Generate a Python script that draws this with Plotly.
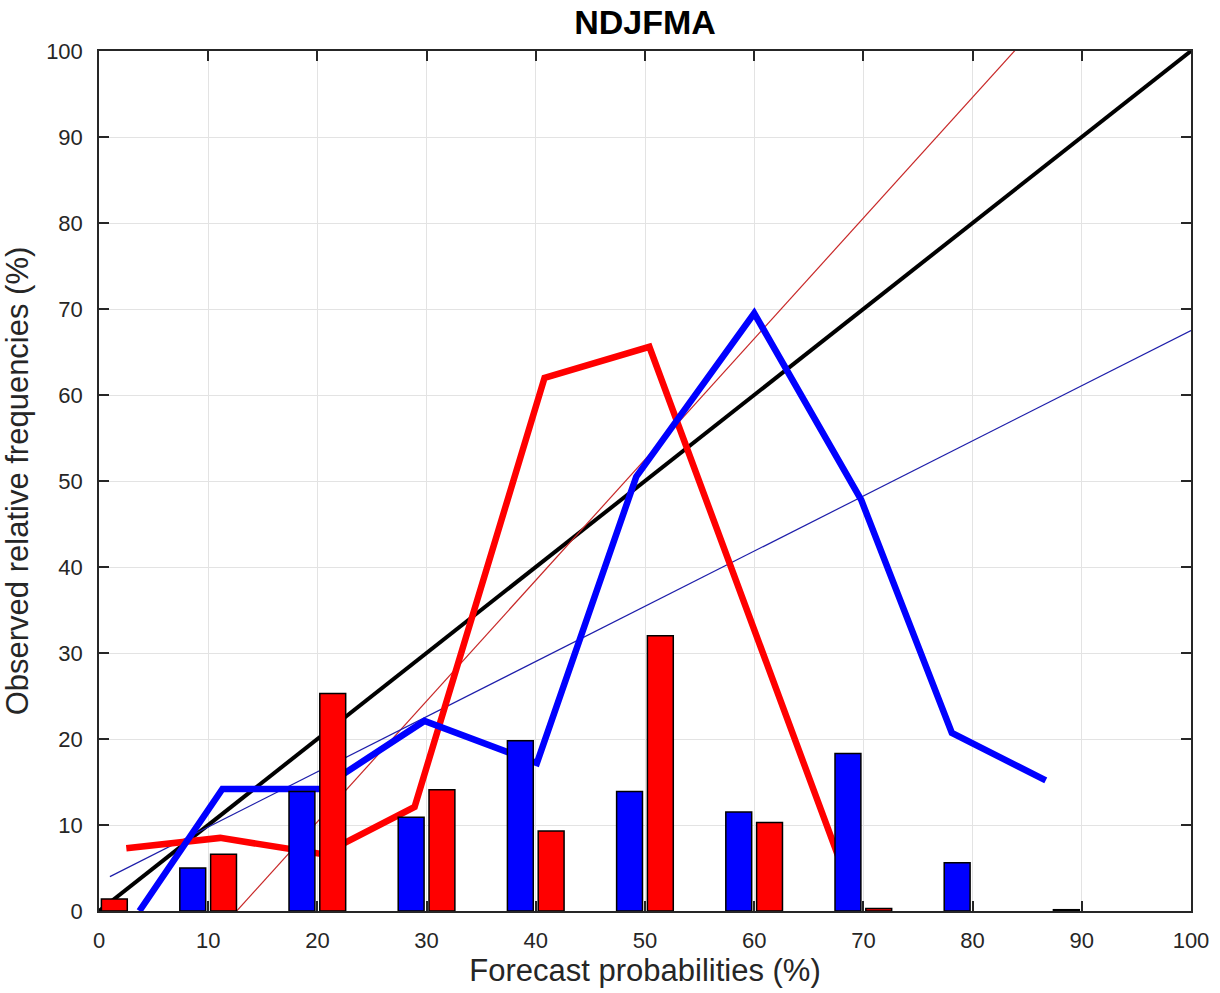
import plotly.graph_objects as go

# ---- data ----
bins = [0, 10, 20, 30, 40, 50, 60, 70, 80, 90, 100]
blue_bars = [None, 5.0, 13.9, 10.9, 19.8, 13.9, 11.5, 18.3, 5.6, 0.15, None]
red_bars = [1.4, 6.6, 25.3, 14.1, 9.3, 32.0, 10.3, 0.3, None, None, None]

blue_x = [3.7, 11.3, 20.3, 29.8, 40.1, 49.2, 60.0, 69.8, 78.1, 86.7]
blue_y = [0.0, 14.2, 14.2, 22.1, 17.2, 50.5, 69.5, 47.8, 20.7, 15.2]

red_x = [2.5, 11.1, 20.5, 28.9, 40.8, 50.4, 69.2]
red_y = [7.3, 8.5, 6.6, 12.1, 62.0, 65.6, 1.2]

diag_x = [0, 100]
diag_y = [0, 100]

red_fit_x = [1, 100]
red_fit_y = [-16.3, 122.7]
blue_fit_x = [1, 100]
blue_fit_y = [4.0, 67.5]

title_text = "NDJFMA"
xlabel = "Forecast probabilities (%)"
ylabel = "Observed relative frequencies (%)"
ticks = [0, 10, 20, 30, 40, 50, 60, 70, 80, 90, 100]

FONT = "Liberation Sans, Arial, Helvetica, sans-serif"
AX = "#262626"
GRID = "#e3e3e3"

fig = go.Figure()

# lines (main axes)
fig.add_trace(go.Scatter(x=diag_x, y=diag_y, mode="lines",
                         line=dict(color="black", width=4), showlegend=False))
fig.add_trace(go.Scatter(x=red_fit_x, y=red_fit_y, mode="lines",
                         line=dict(color="rgb(200,40,40)", width=1.2), showlegend=False))
fig.add_trace(go.Scatter(x=blue_fit_x, y=blue_fit_y, mode="lines",
                         line=dict(color="rgb(30,30,170)", width=1.2), showlegend=False))
fig.add_trace(go.Scatter(x=red_x, y=red_y, mode="lines",
                         line=dict(color="#ff0000", width=6.5), showlegend=False))
fig.add_trace(go.Scatter(x=blue_x, y=blue_y, mode="lines",
                         line=dict(color="#0000ff", width=6.5), showlegend=False))

# bars on overlaid axes so they sit above the lines
fig.add_trace(go.Bar(x=bins, y=blue_bars, width=2.37, offset=-2.6,
                     marker=dict(color="#0000ff", line=dict(color="black", width=1.5)),
                     xaxis="x2", yaxis="y2", showlegend=False))
fig.add_trace(go.Bar(x=bins, y=red_bars, width=2.37, offset=0.22,
                     marker=dict(color="#ff0000", line=dict(color="black", width=1.5)),
                     xaxis="x2", yaxis="y2", showlegend=False))

axis_common = dict(
    range=[0, 100], tickvals=ticks, ticktext=[str(t) for t in ticks],
    showgrid=True, gridcolor=GRID, gridwidth=1,
    showline=True, linecolor=AX, linewidth=1.5, mirror="ticks",
    ticks="inside", ticklen=10, tickwidth=1.5, tickcolor=AX,
    tickfont=dict(family=FONT, size=22, color=AX),
    zeroline=False, automargin=False, fixedrange=True,
)

fig.update_layout(
    width=1220, height=993,
    margin=dict(l=99, r=29, t=51, b=82),
    paper_bgcolor="white", plot_bgcolor="white",
    barmode="overlay",
    title=dict(text="<b>" + title_text + "</b>", x=0.5287, xanchor="center",
               y=1 - 22 / 993, yanchor="middle", yref="container",
               font=dict(family=FONT, size=34, color="black")),
    xaxis=dict(**axis_common,
               title=dict(text=xlabel, font=dict(family=FONT, size=31, color=AX), standoff=6),
               ticklabelstandoff=9),
    yaxis=dict(**axis_common,
               title=dict(text=ylabel, font=dict(family=FONT, size=31, color=AX), standoff=10),
               ticklabelstandoff=10),
    xaxis2=dict(overlaying="x", anchor="y2", range=[0, 100], visible=False, fixedrange=True),
    yaxis2=dict(overlaying="y", anchor="x2", range=[0, 100], visible=False, fixedrange=True),
)

fig.write_html("out.html")
